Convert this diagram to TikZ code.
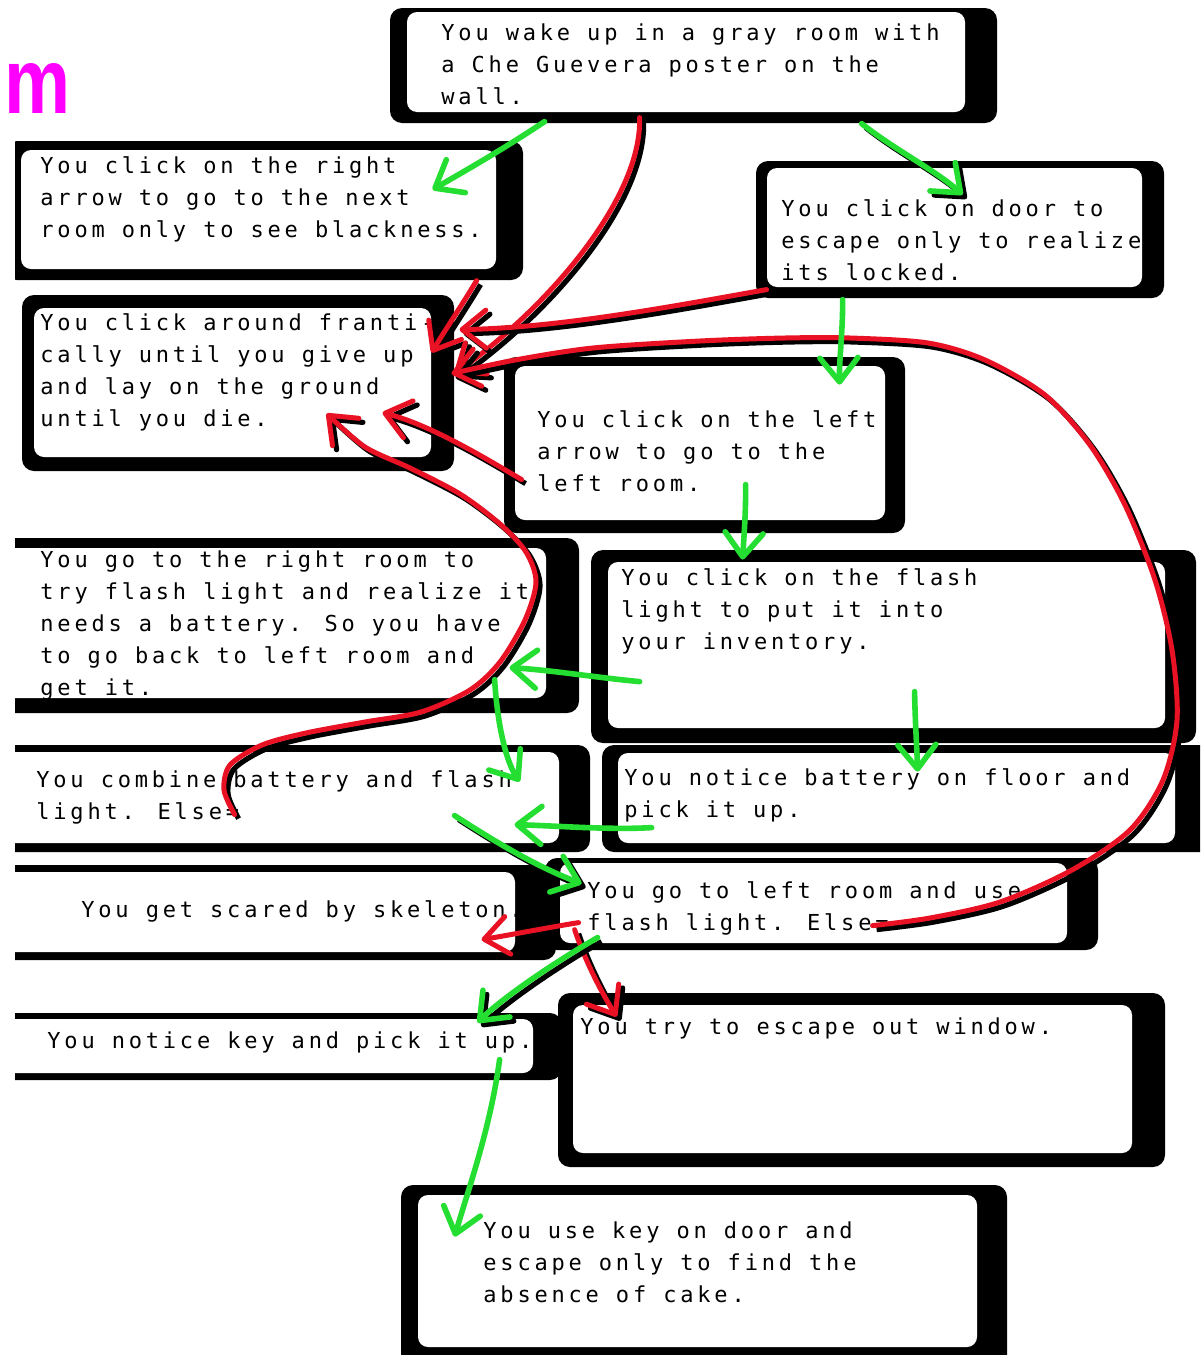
\documentclass[tikz,border=0pt]{standalone}
\usepackage{fontspec}
\usepackage{graphicx}
\usetikzlibrary{arrows.meta,fit}
\newfontfamily\boxfont[LetterSpace=17.3]{DejaVu Sans Mono}
\newfontfamily\mfont{Liberation Sans}
\definecolor{gr}{RGB}{36,222,50}
\definecolor{rd}{RGB}{232,18,36}
\definecolor{mg}{RGB}{255,0,255}
\begin{document}
\begin{tikzpicture}[x=0.5pt,y=-0.5pt,
  boxblack/.style={fill=black, rounded corners=6pt},
  inbox/.style={fill=white, draw=none, rounded corners=5pt, inner sep=0pt},
  txt/.style={anchor=north west, inner sep=0pt, align=left, text=black,
    font=\boxfont\fontsize{11pt}{16pt}\selectfont},
  conn/.style={line cap=round, line join=round,
    -{Straight Barb[length=12pt,width=19pt,round]}},
  gconn/.style={conn, draw=gr, line width=2.8pt},
  rconn/.style={conn, draw=rd, line width=2.5pt},
  shad/.style={preaction={draw=black, line width=2.6pt,
    transform canvas={shift={(2pt,-2pt)}}}}
]
\useasboundingbox (0,0) rectangle (1200,1355);

% magenta fragment
\node[anchor=base west, inner sep=0pt] (mfrag) at (4,113)
  {\color{mg}\resizebox{33pt}{25pt}{\mfont\bfseries m}};

\begin{scope}
\clip (15,0) rectangle (1200,1355);
% A
\fill[boxblack] (390,8) rectangle (997,123);
\node[inbox, fit={(407,12) (965,112)}] (A) {};
\node[txt] (At) at (441,17.6) {\strut You wake up in a gray room with\\a Che Guevera poster on the\\wall.};
% B
\fill[boxblack] (5,141) rectangle (523,280);
\node[inbox, fit={(21,150) (496,269)}] (B) {};
\node[txt] (Bt) at (40,150.6) {\strut You click on the right\\arrow to go to the next\\room only to see blackness.};
% C
\fill[boxblack] (756,161) rectangle (1164,298);
\node[inbox, fit={(767,168) (1142,287)}] (C) {};
\node[txt] (Ct) at (781,193.6) {\strut You click on door to\\escape only to realize\\its locked.};
% D
\fill[boxblack] (22,295) rectangle (454,471);
\node[inbox, fit={(34,308) (431,457)}] (D) {};
\node[txt] (Dt) at (40,307.6) {\strut You click around franti-\\cally until you give up\\and lay on the ground\\until you die.};
% E
\fill[boxblack] (504,357) rectangle (905,533);
\node[inbox, fit={(515,366) (885,520)}] (E) {};
\node[txt] (Et) at (537,404.6) {\strut You click on the left\\arrow to go to the\\left room.};
% F
\fill[boxblack] (0,538) rectangle (579,713);
\node[inbox, fit={(0,548) (546,698)}] (F) {};
\node[txt] (Ft) at (40,544.6) {\strut You go to the right room to\\try flash light and realize it\\needs a battery. So you have\\to go back to left room and\\get it.};
% G
\fill[boxblack] (591,550) rectangle (1196,743);
\node[inbox, fit={(608,562) (1165,728)}] (G) {};
\node[txt] (Gt) at (621,562.6) {\strut You click on the flash\\light to put it into\\your inventory.};
% H
\fill[boxblack] (0,745) rectangle (590,852);
\node[inbox, fit={(0,752) (559,843)}] (H) {};
\node[txt] (Ht) at (36,764.6) {\strut You combine battery and flash\\light. Else=};
% I
\fill[boxblack] (602,745) rectangle (1215,852);
\node[inbox, fit={(618,753) (1175,843)}] (I) {};
\node[txt] (It) at (624,762.6) {\strut You notice battery on floor and\\pick it up.};
% J
\fill[boxblack] (0,865) rectangle (556,960);
\node[inbox, fit={(0,872) (515,952)}] (J) {};
\node[txt] (Jt) at (81,894.6) {\strut You get scared by skeleton.};
% K
\fill[boxblack] (545,858) rectangle (1098,950);
\node[inbox, fit={(560,863) (1067,943)}] (K) {};
\node[txt] (Kt) at (587,875.6) {\strut You go to left room and use\\flash light. Else=};
% L
\fill[boxblack] (0,1013) rectangle (562,1080);
\node[inbox, fit={(0,1019) (533,1073)}] (L) {};
\node[txt] (Lt) at (47,1025.6) {\strut You notice key and pick it up.};
% M
\fill[boxblack] (558,993) rectangle (1165,1167);
\node[inbox, fit={(573,1005) (1132,1153)}] (M) {};
\node[txt] (Mt) at (580,1011.6) {\strut You try to escape out window.};
% N
\fill[boxblack] (401,1185) rectangle (1007,1370);
\node[inbox, fit={(418,1195) (977,1347)}] (N) {};
\node[txt] (Nt) at (483,1215.6) {\strut You use key on door and\\escape only to find the\\absence of cake.};
\end{scope}

% ---------- red connectors ----------
\draw[rconn, shad] ([shift={(456,131)}]B.north west) .. controls (462,305) and (442,335) .. ([shift={(398,45)}]D.north west);
\draw[rconn, shad] ([shift={(233,106)}]A.north west) .. controls (642,200) and (545,310) .. ([shift={(421,66)}]D.north west);
\draw[rconn, shad] ([shift={(0,122)}]C.north west) .. controls (680,305) and (560,328) .. ([shift={(426,22)}]D.north west);
\draw[rconn, shad] ([shift={(7,114)}]E.north west) .. controls (480,455) and (430,425) .. ([shift={(349,105)}]D.north west);
\coordinate (r4s) at ([shift={(313,63)}]K.north west);
\coordinate (r4e) at ([shift={(418,66)}]D.north west);
\draw[rconn, shad] plot[smooth, tension=0.5] coordinates {(r4s) (930,918) (1000,902) (1072,870) (1130,830) (1163,780) (1177,720) (1172,650) (1155,580) (1125,505) (1090,445) (1045,395) (985,360) (928,343) (850,338) (785,338) (700,341) (593,348) (515,360) (r4e)};
\coordinate (r6s) at ([shift={(235,63)}]H.north west);
\coordinate (r6e) at ([shift={(293,106)}]D.north west);
\draw[rconn, shad] plot[smooth, tension=0.5] coordinates {(r6s) (224,790) (230,765) (262,745) (306,733) (365,722) (421,712) (470,690) (500,662) (525,620) (536,582) (526,552) (500,524) (460,494) (410,468) (365,447) (r6e)};
\draw[rconn] ([shift={(19,60)}]K.north west) .. controls (545,928) and (510,935) .. ([shift={(482,68)}]J.north west);
\draw[rconn, shad] ([shift={(15,67)}]K.north west) .. controls (585,960) and (600,990) .. ([shift={(44,12)}]M.north west);

% ---------- green connectors ----------
\draw[gconn] ([shift={(138,110)}]A.north west) .. controls (505,148) and (470,168) .. ([shift={(412,40)}]B.north west);
\draw[gconn, shad] ([shift={(455,112)}]A.north west) .. controls (895,150) and (935,170) .. ([shift={(196,27)}]C.north west);
\draw[gconn] ([shift={(76,132)}]C.north west) .. controls (843,330) and (839,360) .. ([shift={(325,19)}]E.north west);
\draw[gconn] ([shift={(231,119)}]E.north west) .. controls (746,510) and (744,535) .. ([shift={(135,-2)}]G.north west);
\draw[gconn] ([shift={(32,120)}]G.north west) .. controls (600,678) and (550,670) .. ([shift={(510,120)}]F.north west);
\draw[gconn] ([shift={(495,132)}]F.north west) .. controls (497,720) and (505,760) .. ([shift={(520,30)}]H.north west);
\draw[gconn] ([shift={(307,130)}]G.north west) .. controls (915,720) and (917,750) .. ([shift={(300,19)}]I.north west);
\draw[gconn] ([shift={(34,75)}]I.north west) .. controls (610,830) and (560,826) .. ([shift={(515,73)}]H.north west);
\draw[gconn, shad] ([shift={(455,64)}]H.north west) .. controls (500,845) and (540,868) .. ([shift={(22,21)}]K.north west);
\draw[gconn, shad] ([shift={(38,75)}]K.north west) .. controls (550,965) and (500,1000) .. ([shift={(478,4)}]L.north west);
\draw[gconn] ([shift={(500,41)}]L.north west) .. controls (490,1130) and (468,1190) .. ([shift={(37,42)}]N.north west);
\end{tikzpicture}
\end{document}
